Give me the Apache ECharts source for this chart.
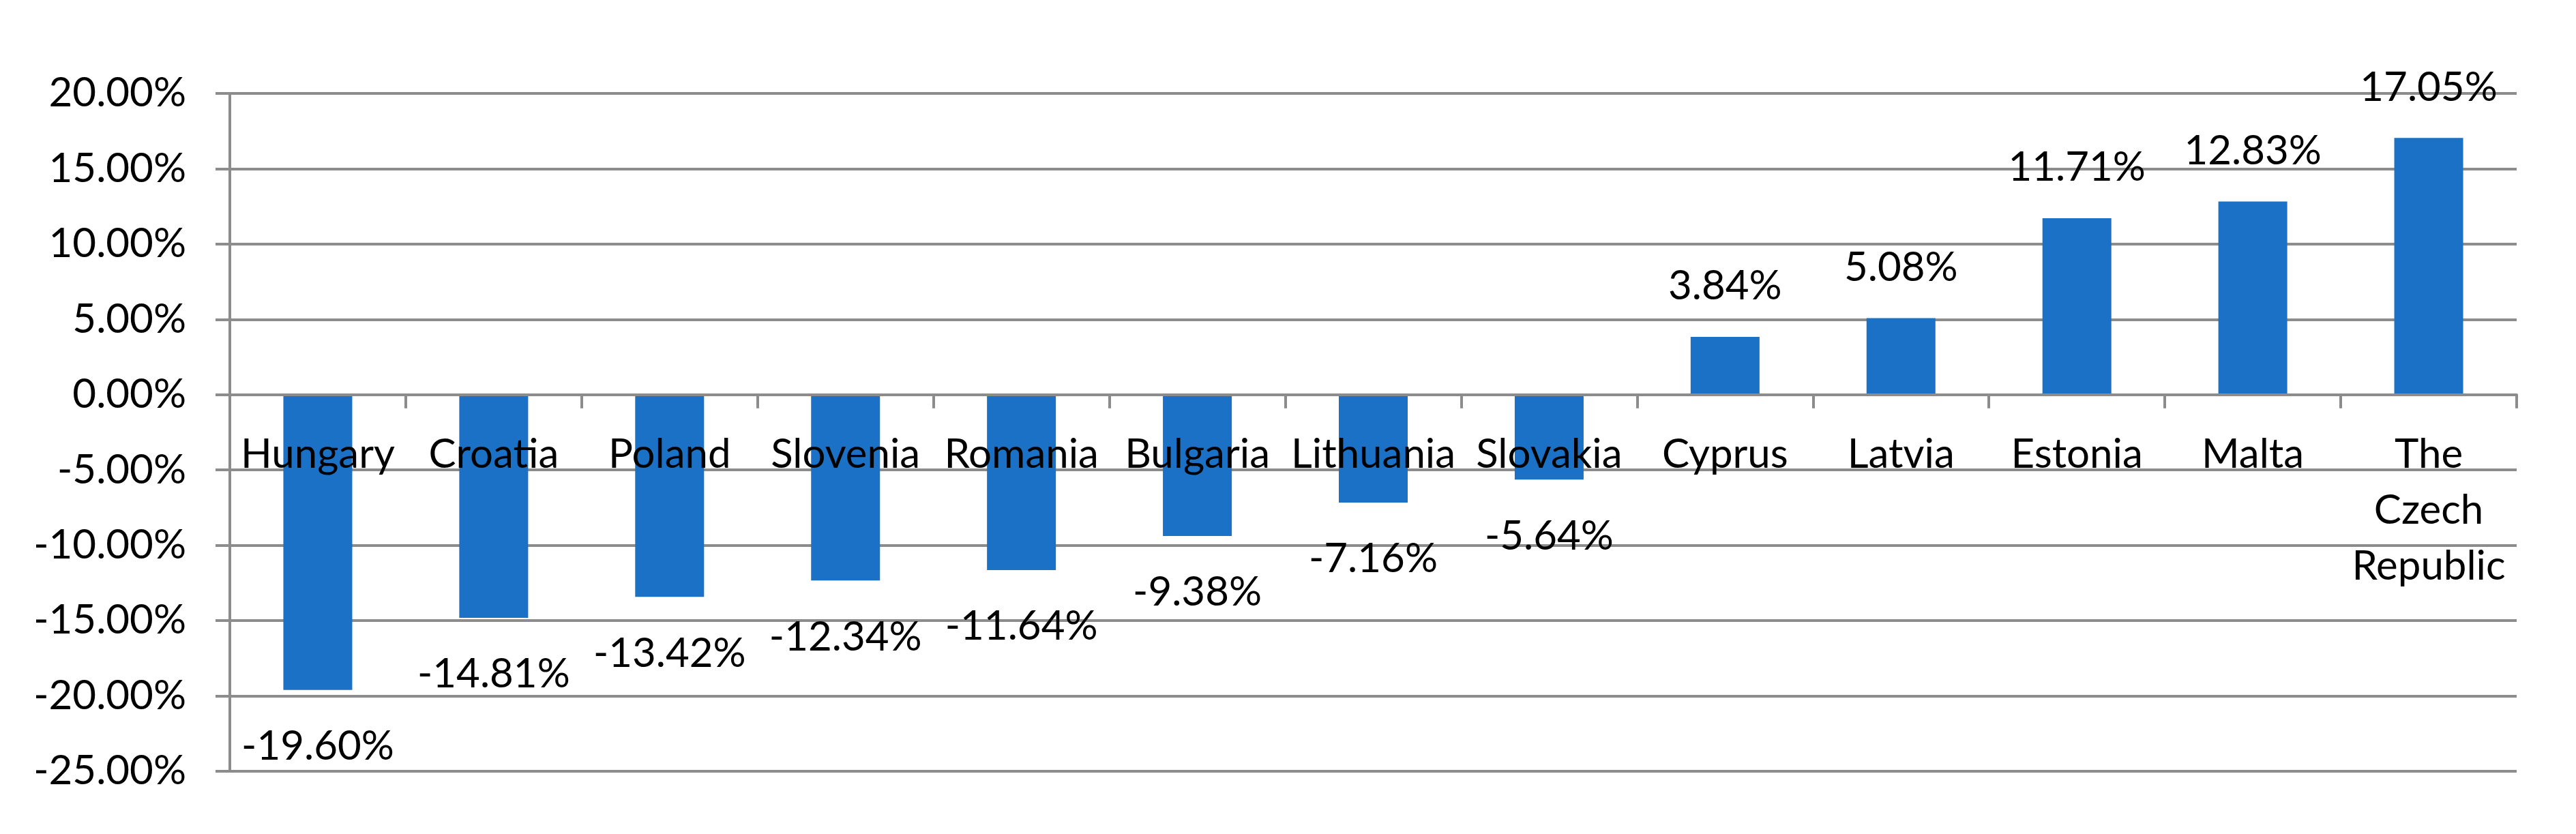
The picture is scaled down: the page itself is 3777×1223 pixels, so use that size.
<!DOCTYPE html>
<html>
<head>
<meta charset="utf-8">
<script src="https://cdn.jsdelivr.net/npm/echarts@6/dist/echarts.min.js"></script>
<style>
html,body{margin:0;padding:0;background:#fff;}
#chart{width:3777px;height:1223px;}
</style>
</head>
<body>
<div id="chart"></div>
<script>
const categories = ["Hungary","Croatia","Poland","Slovenia","Romania","Bulgaria","Lithuania","Slovakia","Cyprus","Latvia","Estonia","Malta","The Czech Republic"];
const values = [-19.60,-14.81,-13.42,-12.34,-11.64,-9.38,-7.16,-5.64,3.84,5.08,11.71,12.83,17.05];
const yMin = -25, yMax = 20, yStep = 5;

const FONT = 'Lato';
const GRAY = '#8c8c8c';
const GRID = {left: 337, right: 87, top: 137, bottom: 92};
const plotH = 1223 - GRID.top - GRID.bottom;
const zeroOffset = -plotH * (0 - yMin) / (yMax - yMin);

const chart = echarts.init(document.getElementById('chart'));
chart.setOption({
  animation: false,
  backgroundColor: '#ffffff',
  grid: Object.assign({containLabel: false, outerBoundsMode: 'none'}, GRID),
  xAxis: {
    type: 'category',
    data: categories,
    position: 'bottom',
    offset: zeroOffset,
    z: 10,
    axisLine: {onZero: false, lineStyle: {color: GRAY, width: 4}},
    axisTick: {show: true, length: 20, lineStyle: {color: GRAY, width: 4}},
    axisLabel: {
      interval: 0, margin: 47, color: '#000', fontFamily: FONT, fontSize: 60, lineHeight: 82,
      formatter: v => v.split(' ').join('\n')
    },
    splitLine: {show: false}
  },
  yAxis: {
    type: 'value',
    min: yMin, max: yMax, interval: yStep,
    axisLine: {show: true, lineStyle: {color: GRAY, width: 4}},
    axisTick: {show: true, length: 21, lineStyle: {color: GRAY, width: 4}},
    axisLabel: {margin: 64, color: '#000', fontFamily: FONT, fontSize: 60, formatter: v => v.toFixed(2) + '%'},
    splitLine: {show: true, lineStyle: {color: GRAY, width: 4}}
  },
  series: [{
    type: 'bar',
    barWidth: 101,
    itemStyle: {color: '#1a71c5'},
    data: values.map(v => ({value: v, label: v < 0 ? {position: 'bottom', distance: 53} : {position: 'top', distance: 44}})),
    label: {
      show: true, color: '#000', fontFamily: FONT, fontSize: 60,
      formatter: p => p.value.toFixed(2) + '%'
    }
  }]
});
</script>
</body>
</html>
